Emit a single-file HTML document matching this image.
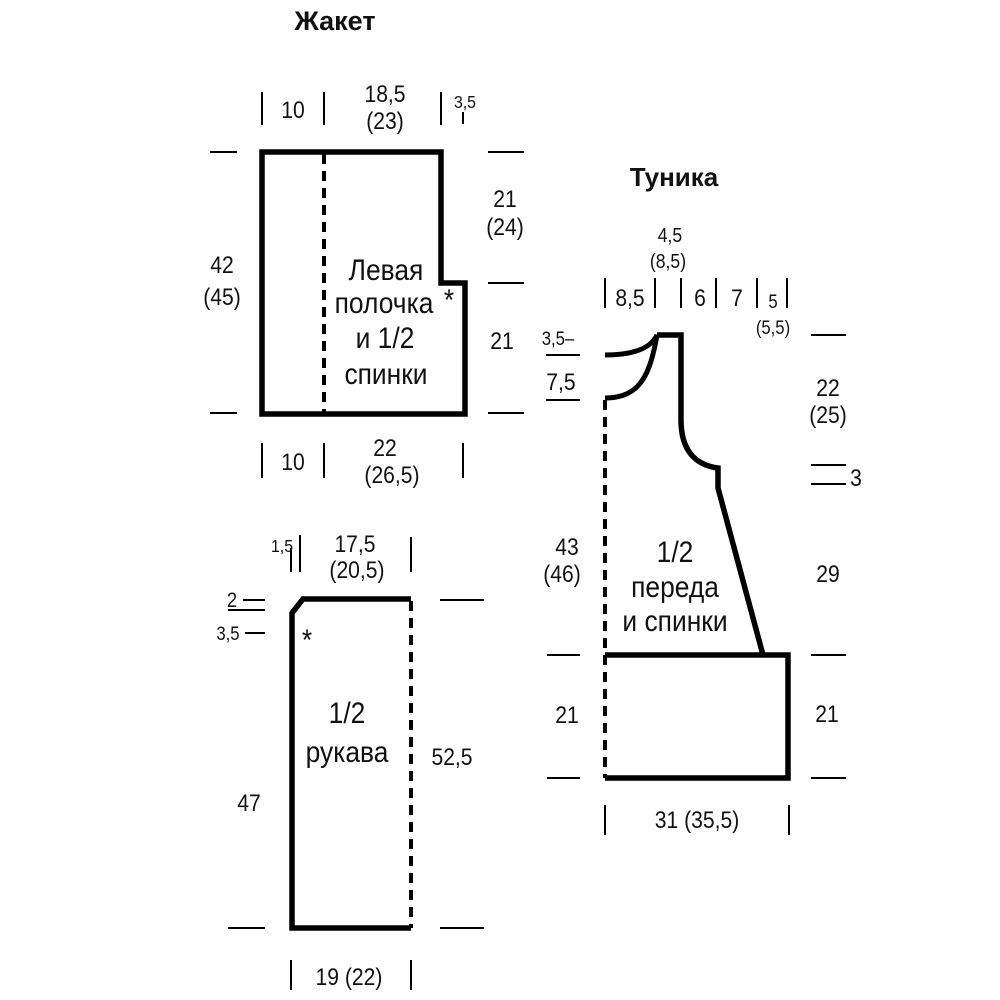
<!DOCTYPE html>
<html><head><meta charset="utf-8"><style>
html,body{margin:0;padding:0;background:#fff}
svg{display:block}
text{font-family:"Liberation Sans Narrow","Liberation Sans",sans-serif;fill:#111;text-anchor:middle;transform-box:fill-box;transform-origin:center;transform:scaleX(.88)}
text.b{transform:none}
</style></head><body>
<svg width="1000" height="1000" viewBox="0 0 1000 1000" xmlns="http://www.w3.org/2000/svg">
<g stroke="#000" fill="none">
<path d="M262 152 H441 V283 H465 V414 H262 Z" stroke-width="5.5"/>
<line x1="324" y1="154" x2="324" y2="414" stroke-width="4" stroke-dasharray="10,7"/>
<g stroke-width="2">
<line x1="262" y1="92" x2="262" y2="125"/><line x1="324" y1="92" x2="324" y2="125"/><line x1="441" y1="92" x2="441" y2="125"/><line x1="463" y1="112" x2="463" y2="124"/>
<line x1="210" y1="152" x2="237" y2="152"/><line x1="210" y1="413" x2="237" y2="413"/>
<line x1="488" y1="152" x2="524" y2="152"/><line x1="488" y1="283" x2="524" y2="283"/><line x1="488" y1="413" x2="524" y2="413"/>
<line x1="262" y1="443" x2="262" y2="478"/><line x1="324" y1="443" x2="324" y2="478"/><line x1="463" y1="443" x2="463" y2="478"/>
</g>
<path d="M411 599 H303 L292 613 V928 H411" stroke-width="5.5"/>
<line x1="411" y1="601" x2="411" y2="928" stroke-width="4" stroke-dasharray="10,7"/>
<g stroke-width="2">
<line x1="291" y1="548" x2="291" y2="572"/><line x1="300" y1="535" x2="300" y2="572"/><line x1="411" y1="537" x2="411" y2="572"/>
<line x1="243" y1="600" x2="265" y2="600"/><line x1="228" y1="610" x2="265" y2="610"/><line x1="245" y1="633" x2="265" y2="633"/>
<line x1="440" y1="600" x2="484" y2="600"/><line x1="440" y1="928" x2="484" y2="928"/><line x1="228" y1="928" x2="265" y2="928"/>
<line x1="291" y1="960" x2="291" y2="990"/><line x1="411" y1="960" x2="411" y2="990"/>
</g>
<path d="M605 355 C630 355 650 350 657 335 C650 375 640 398 605 398" stroke-width="5"/>
<path d="M657 335 H681 V420 C681 450 695 465 718 468 V488 L763 655" stroke-width="5.5"/>
<path d="M605 655 H788 V778 H605" stroke-width="5.5"/>
<line x1="605" y1="400" x2="605" y2="778" stroke-width="4" stroke-dasharray="10,7"/>
<g stroke-width="2">
<line x1="605" y1="278" x2="605" y2="308"/><line x1="655" y1="278" x2="655" y2="308"/><line x1="681" y1="278" x2="681" y2="308"/><line x1="716" y1="278" x2="716" y2="308"/><line x1="757" y1="278" x2="757" y2="308"/><line x1="787" y1="278" x2="787" y2="308"/>
<line x1="546" y1="355" x2="580" y2="355"/><line x1="546" y1="400" x2="580" y2="400"/>
<line x1="547" y1="655" x2="580" y2="655"/><line x1="547" y1="778" x2="580" y2="778"/>
<line x1="811" y1="335" x2="846" y2="335"/><line x1="811" y1="465" x2="846" y2="465"/><line x1="811" y1="484" x2="846" y2="484"/>
<line x1="811" y1="655" x2="846" y2="655"/><line x1="811" y1="778" x2="846" y2="778"/>
<line x1="605" y1="805" x2="605" y2="835"/><line x1="789" y1="805" x2="789" y2="835"/>
</g>
</g>
<g font-size="24">
<text class="b" x="335" y="30" font-weight="bold" font-size="27">Жакет</text>
<text x="293" y="118">10</text>
<text x="385" y="102">18,5</text><text x="385" y="129">(23)</text>
<text x="465" y="108" font-size="18">3,5</text>
<text x="505" y="207">21</text><text x="505" y="235">(24)</text>
<text x="502" y="349">21</text>
<text x="222" y="273">42</text><text x="222" y="305">(45)</text>
<text x="293" y="470">10</text>
<text x="385" y="456">22</text><text x="392" y="483">(26,5)</text>
<g font-size="30"><text x="386" y="280">Левая</text><text x="384" y="313">полочка</text><text x="385" y="348">и 1/2</text><text x="386" y="384">спинки</text></g>
<text x="449" y="310" font-size="30">*</text>
<text x="282" y="552" font-size="18">1,5</text>
<text x="355" y="552">17,5</text><text x="357" y="578">(20,5)</text>
<text x="232" y="607" font-size="21">2</text><text x="228" y="640" font-size="19">3,5</text>
<text x="249" y="811">47</text><text x="452" y="765">52,5</text>
<g font-size="30"><text x="347" y="723">1/2</text><text x="347" y="762">рукава</text></g>
<text x="307" y="650" font-size="30">*</text>
<text x="349" y="985">19 (22)</text>
<text class="b" x="674" y="186" font-weight="bold" font-size="26">Туника</text>
<text x="630" y="306">8,5</text>
<text x="670" y="242" font-size="20">4,5</text><text x="668" y="268" font-size="20">(8,5)</text>
<text x="700" y="306">6</text><text x="737" y="306">7</text>
<text x="773" y="308" font-size="19">5</text><text x="773" y="334" font-size="19">(5,5)</text>
<text x="558" y="345" font-size="19">3,5–</text>
<text x="561" y="390">7,5</text>
<text x="567" y="555">43</text><text x="562" y="582">(46)</text>
<text x="567" y="723">21</text>
<text x="828" y="396">22</text><text x="828" y="423">(25)</text>
<text x="856" y="486">3</text>
<text x="828" y="582">29</text>
<text x="827" y="722">21</text>
<g font-size="30"><text x="675" y="562">1/2</text><text x="675" y="597">переда</text><text x="675" y="631">и спинки</text></g>
<text x="697" y="828">31 (35,5)</text>
</g>
</svg>
</body></html>
